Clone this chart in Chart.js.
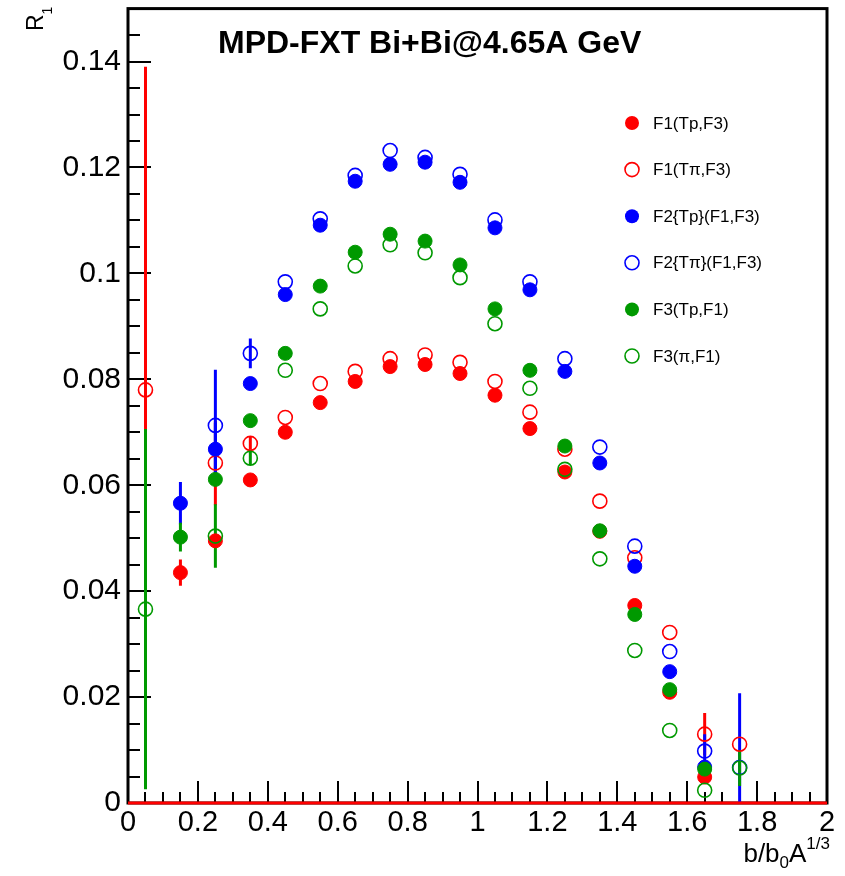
<!DOCTYPE html>
<html>
<head>
<meta charset="utf-8">
<script src="https://cdn.jsdelivr.net/npm/chart.js@4.4.1/dist/chart.umd.min.js"></script>
<style>
  html, body { margin: 0; padding: 0; background: #fff; }
  #wrap { width: 845px; height: 876px; }
</style>
</head>
<body>
<div id="wrap"><canvas id="chart" width="845" height="876"></canvas></div>
<script>
// --- DATA ---
const xBins = [0.05, 0.15, 0.25, 0.35, 0.45, 0.55, 0.65, 0.75, 0.85, 0.95, 1.05, 1.15, 1.25, 1.35, 1.45, 1.55, 1.65, 1.75];

const f1Tp    = [null, 0.0435, 0.0495, 0.0610, 0.0700, 0.0756, 0.0796, 0.0824, 0.0828, 0.0811, 0.0770, 0.0707, 0.0625, 0.0513, 0.0373, 0.0209, 0.0049, null];
const f1Tpi   = [0.0780, null, 0.0642, 0.0679, 0.0728, 0.0792, 0.0815, 0.0839, 0.0846, 0.0832, 0.0796, 0.0738, 0.0668, 0.0570, 0.0463, 0.0322, 0.0130, 0.0111];
const f2Tp    = [null, 0.0566, 0.0668, 0.0792, 0.0960, 0.1091, 0.1174, 0.1206, 0.1210, 0.1172, 0.1086, 0.0969, 0.0815, 0.0642, 0.0447, 0.0248, 0.0068, null];
const f2Tpi   = [null, null, 0.0713, 0.0849, 0.0984, 0.1103, 0.1185, 0.1232, 0.1219, 0.1187, 0.1101, 0.0984, 0.0839, 0.0672, 0.0485, 0.0286, 0.0098, 0.0067];
const f3Tp    = [null, 0.0502, 0.0611, 0.0722, 0.0849, 0.0976, 0.1040, 0.1074, 0.1061, 0.1016, 0.0933, 0.0817, 0.0674, 0.0514, 0.0356, 0.0214, 0.0064, null];
const f3Pi    = [0.0366, null, 0.0504, 0.0651, 0.0817, 0.0933, 0.1014, 0.1054, 0.1039, 0.0992, 0.0905, 0.0783, 0.0630, 0.0461, 0.0288, 0.0137, 0.0024, 0.0066];

// vertical error (half length), only where it shows outside the marker
const f1TpErr  = [0, 0.0025, 0, 0, 0, 0, 0, 0, 0, 0, 0, 0, 0, 0, 0, 0, 0, 0];
const f1TpiErr = [0.061, 0, 0.008, 0.0012, 0, 0, 0, 0, 0, 0, 0, 0, 0, 0, 0, 0, 0.004, 0];
const f2TpErr  = [0, 0.004, 0.005, 0, 0, 0, 0, 0, 0, 0, 0, 0, 0, 0, 0, 0, 0, 0];
const f2TpiErr = [0, 0, 0.0105, 0.0028, 0, 0, 0, 0, 0, 0, 0, 0, 0, 0, 0, 0, 0.0032, 0.014];
const f3TpErr  = [0, 0.0027, 0, 0, 0, 0, 0, 0, 0, 0, 0, 0, 0, 0, 0, 0, 0, 0];
const f3PiErr  = [0.034, 0, 0.006, 0.0013, 0, 0, 0, 0, 0, 0, 0, 0, 0, 0, 0, 0, 0, 0.0034];

const seriesLabels = ['F1(Tp,F3)', 'F1(T\u03c0,F3)', 'F2{Tp}(F1,F3)', 'F2{T\u03c0}(F1,F3)', 'F3(Tp,F1)', 'F3(\u03c0,F1)'];

const xTicks = [0, 0.2, 0.4, 0.6, 0.8, 1, 1.2, 1.4, 1.6, 1.8, 2];
const xTickLabels = ['0', '0.2', '0.4', '0.6', '0.8', '1', '1.2', '1.4', '1.6', '1.8', '2'];
const yTicks = [0, 0.02, 0.04, 0.06, 0.08, 0.1, 0.12, 0.14];
const yTickLabels = ['0', '0.02', '0.04', '0.06', '0.08', '0.1', '0.12', '0.14'];

const titleText = 'MPD-FXT Bi+Bi@4.65A GeV';

// --- STYLE ---
const FONT = "'Liberation Sans', Arial, sans-serif";
const RED = '#ff0000', BLUE = '#0000ff', GREEN = '#009900';

const series = [
  { label: seriesLabels[0], vals: f1Tp,  err: f1TpErr,  color: RED,   filled: true },
  { label: seriesLabels[1], vals: f1Tpi, err: f1TpiErr, color: RED,   filled: false },
  { label: seriesLabels[2], vals: f2Tp,  err: f2TpErr,  color: BLUE,  filled: true },
  { label: seriesLabels[3], vals: f2Tpi, err: f2TpiErr, color: BLUE,  filled: false },
  { label: seriesLabels[4], vals: f3Tp,  err: f3TpErr,  color: GREEN, filled: true },
  { label: seriesLabels[5], vals: f3Pi,  err: f3PiErr,  color: GREEN, filled: false }
];

const datasets = series.map((s, i) => ({
  label: s.label,
  data: xBins.map((x, k) => ({ x: x, y: s.vals[k] })),
  pointRadius: 7,
  pointHoverRadius: 7,
  pointBackgroundColor: s.filled ? s.color : 'rgba(0,0,0,0)',
  pointBorderColor: s.color,
  pointBorderWidth: s.filled ? 1 : 1.6,
  showLine: false,
  order: 10 - i,
  clip: false
}));

// red line along y = 0
datasets.push({
  label: 'zero',
  type: 'line',
  data: [{ x: 0, y: 0 }, { x: 2, y: 0 }],
  borderColor: RED,
  borderWidth: 3,
  pointRadius: 0,
  order: 0,
  clip: false
});

// --- PLUGIN: frame, inner ticks, error bars, texts ---
const rootStyle = {
  id: 'rootStyle',
  beforeDatasetsDraw(chart) {
    const { ctx, chartArea: a, scales: { x, y } } = chart;
    ctx.save();
    ctx.strokeStyle = '#000';
    ctx.lineWidth = 2;
    ctx.beginPath();
    for (let v = 0; v <= 0.1501; v += 0.005) {
      const py = Math.round(y.getPixelForValue(v));
      ctx.moveTo(a.left, py); ctx.lineTo(a.left + 12, py);
    }
    yTicks.forEach(v => {
      const py = Math.round(y.getPixelForValue(v));
      ctx.moveTo(a.left, py); ctx.lineTo(a.left + 23, py);
    });
    for (let v = 0; v <= 2.0001; v += 0.05) {
      const px = Math.round(x.getPixelForValue(v));
      ctx.moveTo(px, a.bottom); ctx.lineTo(px, a.bottom - 11);
    }
    xTicks.forEach(v => {
      const px = Math.round(x.getPixelForValue(v));
      ctx.moveTo(px, a.bottom); ctx.lineTo(px, a.bottom - 22);
    });
    ctx.stroke();
    ctx.lineWidth = 3;
    ctx.strokeRect(a.left, a.top, a.right - a.left, a.bottom - a.top);

    // error bars
    ctx.beginPath();
    ctx.rect(a.left, a.top, a.right - a.left, a.bottom - a.top);
    ctx.clip();
    ctx.lineWidth = 3;
    series.forEach(s => {
      ctx.strokeStyle = s.color;
      ctx.beginPath();
      xBins.forEach((xv, k) => {
        if (s.vals[k] == null || !s.err[k]) return;
        const px = x.getPixelForValue(xv);
        ctx.moveTo(px, y.getPixelForValue(s.vals[k] - s.err[k]));
        ctx.lineTo(px, y.getPixelForValue(s.vals[k] + s.err[k]));
      });
      ctx.stroke();
    });
    ctx.restore();
  },
  afterDraw(chart) {
    const { ctx, chartArea: a } = chart;
    ctx.save();
    ctx.fillStyle = '#000';
    ctx.textBaseline = 'alphabetic';

    // title
    ctx.font = 'bold 32px ' + FONT;
    ctx.textAlign = 'left';
    ctx.fillText(titleText, 218, 53);

    // legend
    series.forEach((s, i) => {
      const cy = 123 + i * 46.6;
      ctx.beginPath();
      ctx.arc(632, cy, 7, 0, Math.PI * 2);
      if (s.filled) { ctx.fillStyle = s.color; ctx.fill(); }
      else { ctx.strokeStyle = s.color; ctx.lineWidth = 1.6; ctx.stroke(); }
      ctx.fillStyle = '#000';
      ctx.font = '17px ' + FONT;
      ctx.textBaseline = 'middle';
      ctx.fillText(s.label, 653, cy + 1);
    });
    ctx.textBaseline = 'alphabetic';

    // y title R_1 (rotated)
    ctx.save();
    ctx.translate(43, 31);
    ctx.rotate(-Math.PI / 2);
    ctx.font = '23px ' + FONT;
    ctx.fillText('R', 0, 0);
    const rw = ctx.measureText('R').width;
    ctx.font = '14px ' + FONT;
    ctx.fillText('1', rw, 9);
    ctx.restore();

    // x title b/b_0 A^{1/3}
    const big = '26px ' + FONT, small = '17px ' + FONT;
    const parts = [
      { t: 'b/b', f: big, dy: 0 },
      { t: '0', f: small, dy: 6 },
      { t: 'A', f: big, dy: 0 },
      { t: '1/3', f: small, dy: -13 }
    ];
    let total = 0;
    parts.forEach(p => { ctx.font = p.f; p.w = ctx.measureText(p.t).width; total += p.w; });
    let cx = a.right + 3 - total;
    parts.forEach(p => { ctx.font = p.f; ctx.fillText(p.t, cx, 862 + p.dy); cx += p.w; });
    ctx.restore();
  }
};

// --- CHART ---
new Chart(document.getElementById('chart'), {
  type: 'scatter',
  data: { datasets },
  options: {
    responsive: false,
    animation: false,
    layout: { padding: { top: 5, right: 18, left: 0, bottom: 0 } },
    plugins: { legend: { display: false }, tooltip: { enabled: false } },
    scales: {
      x: {
        type: 'linear', min: 0, max: 2,
        grid: { display: false, drawTicks: false },
        border: { display: false },
        afterBuildTicks: s => { s.ticks = xTicks.map(v => ({ value: v })); },
        afterFit: s => { s.height = 73; s.paddingLeft = 0; s.paddingRight = 0; },
        ticks: {
          autoSkip: false, maxRotation: 0, padding: 3, color: '#000',
          font: { family: FONT, size: 29 },
          callback: (v, i) => xTickLabels[i]
        }
      },
      y: {
        type: 'linear', min: 0, max: 0.15,
        grid: { display: false, drawTicks: false },
        border: { display: false },
        afterBuildTicks: s => { s.ticks = yTicks.map(v => ({ value: v })); },
        afterFit: s => { s.width = 128; s.paddingTop = 0; s.paddingBottom = 0; },
        ticks: {
          autoSkip: false, padding: 7, color: '#000',
          font: { family: FONT, size: 30 },
          callback: (v, i) => yTickLabels[i]
        }
      }
    }
  },
  plugins: [rootStyle]
});
</script>
</body>
</html>
